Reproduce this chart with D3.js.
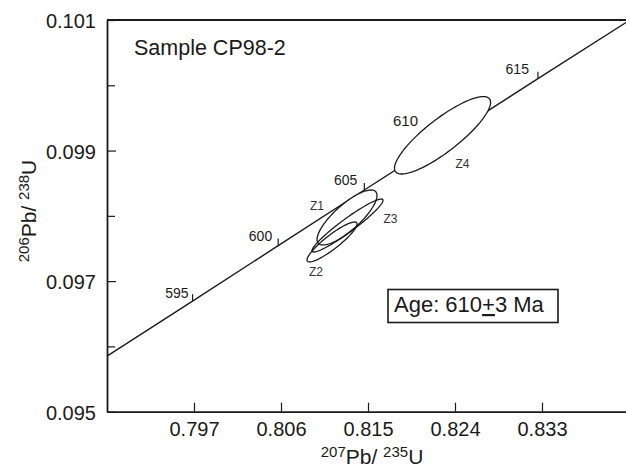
<!DOCTYPE html>
<html>
<head>
<meta charset="utf-8">
<script src="https://cdn.jsdelivr.net/npm/d3@7"></script>
<style>
  body { margin: 0; background: #fff; }
  svg { display: block; font-family: "Liberation Sans", Arial, sans-serif; }
</style>
</head>
<body>
<svg id="chart" width="626" height="468"></svg>
<script>
// ================= data =================
// concordia age marks (Ma) and their ratios
var ages = [595, 600, 605, 610, 615];
var ageX = [0.79685, 0.80571, 0.81462, 0.82359, 0.83258];
var ageY = [0.096693, 0.097544, 0.098396, 0.099248, 0.100101];
// concordia trace, end to end
var curveX = [0.7880, 0.79685, 0.80571, 0.81462, 0.82359, 0.83258, 0.8421];
var curveY = [0.09585, 0.096693, 0.097544, 0.098396, 0.099248, 0.100101, 0.10100];
// zircon error ellipses
var grains = ["Z1", "Z2", "Z3", "Z4"];
var grainX = [0.81283, 0.81128, 0.81288, 0.82271];
var grainY = [0.097975, 0.09760, 0.097852, 0.099234];
var grainErrX = [0.00310, 0.00259, 0.00367, 0.00497];
var grainErrY = [0.000421, 0.000306, 0.000406, 0.000593];
var grainRho = [0.80, 0.90, 0.95, 0.85];
// axis ticks
var xTicks = [0.797, 0.806, 0.815, 0.824, 0.833];
var yTicks = [0.095, 0.097, 0.099, 0.101];
var yMinor = [0.096, 0.098, 0.100];
//===========================================================

function drawChart() {
  var svg = d3.select("#chart");
  var pLeft = 107, pTop = 20, pBottom = 411.7, pRight = 629;

  var x = d3.scaleLinear().domain([0.788, 0.842]).range([pLeft, pRight]);
  var y = d3.scaleLinear().domain([0.095, 0.101]).range([pBottom, pTop]);

  var ink = "#1a1a1a";
  var font = "\"Liberation Sans\", Arial, sans-serif";

  // label nudges (pixels) for age marks and grain names
  var ageLabelOff = [[-4, -3], [-6, -5], [-7, -5], [-33, -8], [-9, -5]];
  var grainLabelOff = [[-30, -7], [-16, 34], [43, -3], [20, 33]];

  //==================== concordia =====================
  var pts = curveX.map(function(d, i) { return [d, curveY[i]]; });
  svg.append("path")
    .datum(pts)
    .attr("fill", "none")
    .attr("stroke", ink)
    .attr("stroke-width", 1.4)
    .attr("d", d3.line().x(d => x(d[0])).y(d => y(d[1])));

  // age ticks
  ages.forEach(function(a, i) {
    var px = x(ageX[i]), py = y(ageY[i]);
    svg.append("line")
      .attr("x1", px).attr("x2", px)
      .attr("y1", py).attr("y2", py - 7)
      .attr("stroke", ink).attr("stroke-width", 1.2);
    svg.append("text")
      .attr("x", px + ageLabelOff[i][0])
      .attr("y", py + ageLabelOff[i][1])
      .attr("text-anchor", "end")
      .attr("font-size", a == 610 ? 15 : 14)
      .attr("fill", ink)
      .text(a);
  });

  //==================== ellipses =====================
  function ellipsePts(i) {
    var out = [];
    var r = grainRho[i], s = Math.sqrt(1 - r * r);
    for (var k = 0; k <= 120; k++) {
      var t = k / 120 * 2 * Math.PI;
      var dx = grainErrX[i] * Math.cos(t);
      var dy = grainErrY[i] * (r * Math.cos(t) + s * Math.sin(t));
      out.push([x(grainX[i] + dx), y(grainY[i] + dy)]);
    }
    return out;
  }
  var ell = d3.line().curve(d3.curveLinearClosed);

  // white fill first so the concordia is hidden inside
  grains.forEach(function(g, i) {
    svg.append("path").attr("d", ell(ellipsePts(i))).attr("fill", "#fff").attr("stroke", "none");
  });
  grains.forEach(function(g, i) {
    svg.append("path").attr("d", ell(ellipsePts(i)))
      .attr("fill", "none").attr("stroke", ink).attr("stroke-width", 1.3);
    svg.append("text")
      .attr("x", x(grainX[i]) + grainLabelOff[i][0])
      .attr("y", y(grainY[i]) + grainLabelOff[i][1])
      .attr("text-anchor", "middle")
      .attr("font-size", 12)
      .attr("fill", "#333")
      .text(g);
  });

  //==================== axes =====================
  svg.append("g")
    .attr("transform", `translate(0,${pBottom})`)
    .call(d3.axisBottom(x).tickValues(xTicks).tickFormat(d3.format(".3f"))
          .tickSize(-9).tickSizeOuter(0).tickPadding(10))
    .call(g => g.select(".domain").attr("stroke", ink).attr("stroke-width", 1.8))
    .call(g => g.selectAll(".tick line").attr("stroke", ink).attr("stroke-width", 1.2))
    .call(g => g.selectAll("text").attr("font-size", 20).attr("fill", ink).attr("font-family", font));

  svg.append("g")
    .attr("transform", `translate(${pLeft},0)`)
    .call(d3.axisLeft(y).tickValues(yTicks).tickFormat(d3.format(".3f"))
          .tickSize(-9).tickSizeOuter(0).tickPadding(11))
    .call(g => g.select(".domain").attr("stroke", ink).attr("stroke-width", 1.8))
    .call(g => g.selectAll(".tick line").attr("stroke", ink).attr("stroke-width", 1.2))
    .call(g => g.selectAll("text").attr("font-size", 20).attr("fill", ink).attr("dy", "0.38em")
          .attr("font-family", font));

  // minor y ticks
  svg.append("g")
    .attr("transform", `translate(${pLeft},0)`)
    .call(d3.axisLeft(y).tickValues(yMinor).tickFormat("").tickSize(-8).tickSizeOuter(0))
    .call(g => g.select(".domain").remove())
    .call(g => g.selectAll(".tick line").attr("stroke", ink).attr("stroke-width", 1.2));

  // top frame line
  svg.append("line")
    .attr("x1", pLeft).attr("x2", pRight)
    .attr("y1", y(0.101)).attr("y2", y(0.101))
    .attr("stroke", ink).attr("stroke-width", 1.8);

  //==================== labels =====================
  var xt = svg.append("text")
    .attr("x", 372).attr("y", 464)
    .attr("text-anchor", "middle")
    .attr("font-size", 21)
    .attr("fill", ink);
  xt.append("tspan").attr("font-size", 15).attr("dy", -7).text("207");
  xt.append("tspan").attr("dy", 7).text("Pb/ ");
  xt.append("tspan").attr("font-size", 15).attr("dy", -7).text("235");
  xt.append("tspan").attr("dy", 7).text("U");

  var yt = svg.append("text")
    .attr("transform", "translate(36,211) rotate(-90)")
    .attr("text-anchor", "middle")
    .attr("font-size", 21)
    .attr("fill", ink);
  yt.append("tspan").attr("font-size", 15).attr("dy", -7).text("206");
  yt.append("tspan").attr("dy", 7).text("Pb/ ");
  yt.append("tspan").attr("font-size", 15).attr("dy", -7).text("238");
  yt.append("tspan").attr("dy", 7).text("U");

  svg.append("text")
    .attr("x", 134).attr("y", 55)
    .attr("font-size", 21.5)
    .attr("fill", ink)
    .text("Sample CP98-2");

  // age box
  svg.append("rect")
    .attr("x", 388).attr("y", 289.5)
    .attr("width", 170).attr("height", 33)
    .attr("fill", "#fff")
    .attr("stroke", ink).attr("stroke-width", 1.6);
  var at = svg.append("text")
    .attr("x", 394).attr("y", 312)
    .attr("font-size", 22)
    .attr("fill", ink);
  at.append("tspan").text("Age: 610");
  at.append("tspan").style("text-decoration", "underline").text("+");
  at.append("tspan").text("3 Ma");
}

drawChart();
</script>
</body>
</html>
